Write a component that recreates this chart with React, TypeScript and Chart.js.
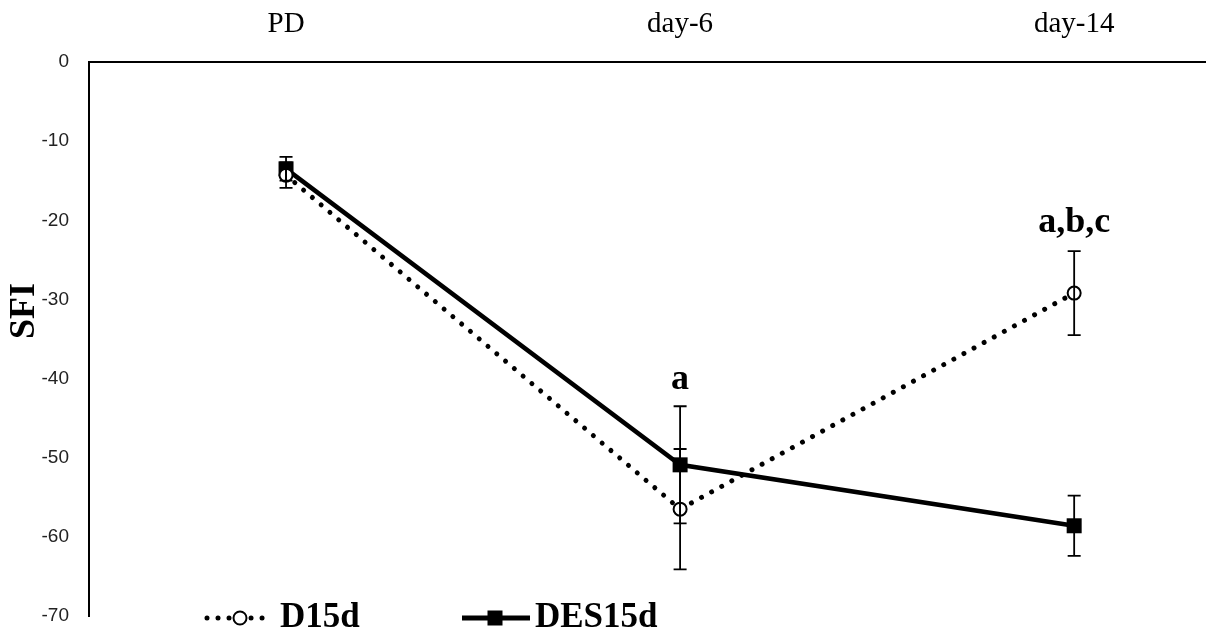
import React, { useEffect, useRef } from "react";
import { Chart, registerables } from "chart.js";

Chart.register(...registerables);

const categories = ["PD", "day-6", "day-14"];
const yTicks = [0, -10, -20, -30, -40, -50, -60, -70];

const d15dValues = [-14.3, -56.5, -29.2];
const d15dErrors = [1.6, 7.6, 5.3];

const des15dValues = [-13.5, -50.9, -58.6];
const des15dErrors = [1.5, 7.4, 3.8];

const annotationTexts = ["a", "a,b,c"];
const annotationCats = [1, 2];
const annotationValues = [-41.3, -21.5];

const yTitle = "SFI";
const seriesNames = ["D15d", "DES15d"];

const SERIF = "'Liberation Serif', 'Times New Roman', serif";
const SANS = "'Liberation Sans', Arial, sans-serif";

const errorBarPlugin = {
  id: "errorBars",
  afterDatasetsDraw(chart: any) {
    const { ctx, scales } = chart;
    const xs = scales.x;
    const ys = scales.y;
    const errs = [d15dErrors, des15dErrors];
    ctx.save();
    ctx.strokeStyle = "#000";
    ctx.lineWidth = 1.8;
    ctx.setLineDash([]);
    chart.data.datasets.forEach((ds: any, di: number) => {
      ds.data.forEach((p: any, i: number) => {
        const e = errs[di][i];
        const x = xs.getPixelForValue(p.x);
        const yTop = ys.getPixelForValue(p.y + e);
        const yBot = ys.getPixelForValue(p.y - e);
        ctx.beginPath();
        ctx.moveTo(x, yTop);
        ctx.lineTo(x, yBot);
        ctx.moveTo(x - 6.5, yTop);
        ctx.lineTo(x + 6.5, yTop);
        ctx.moveTo(x - 6.5, yBot);
        ctx.lineTo(x + 6.5, yBot);
        ctx.stroke();
      });
    });
    ctx.restore();
  },
};

const extrasPlugin = {
  id: "extras",
  afterDraw(chart: any) {
    const { ctx, scales } = chart;
    const xs = scales.x;
    const ys = scales.y;
    ctx.save();
    // annotations
    ctx.fillStyle = "#000";
    ctx.font = `bold 36px ${SERIF}`;
    ctx.textAlign = "center";
    ctx.textBaseline = "alphabetic";
    annotationTexts.forEach((t, i) => {
      ctx.fillText(t, xs.getPixelForValue(annotationCats[i]), ys.getPixelForValue(annotationValues[i]));
    });
    // y title
    ctx.save();
    ctx.translate(25, 311);
    ctx.rotate(-Math.PI / 2);
    ctx.textBaseline = "middle";
    ctx.font = `bold 36px ${SERIF}`;
    ctx.fillText(yTitle, 0, 0);
    ctx.restore();

    // legend
    const ly = 618;
    // D15d
    ctx.strokeStyle = "#000";
    ctx.lineCap = "round";
    ctx.lineWidth = 5;
    ctx.setLineDash([0.01, 11]);
    ctx.beginPath();
    ctx.moveTo(207, ly);
    ctx.lineTo(268, ly);
    ctx.stroke();
    ctx.setLineDash([]);
    ctx.lineCap = "butt";
    ctx.beginPath();
    ctx.arc(240, ly, 6.5, 0, Math.PI * 2);
    ctx.fillStyle = "#fff";
    ctx.fill();
    ctx.lineWidth = 2;
    ctx.stroke();
    // DES15d
    ctx.lineWidth = 5;
    ctx.beginPath();
    ctx.moveTo(462, ly);
    ctx.lineTo(530, ly);
    ctx.stroke();
    ctx.fillStyle = "#000";
    ctx.fillRect(495 - 7.5, ly - 7.5, 15, 15);

    ctx.font = `bold 35px ${SERIF}`;
    ctx.textAlign = "left";
    ctx.textBaseline = "alphabetic";
    ctx.fillText(seriesNames[0], 280, 627);
    ctx.fillText(seriesNames[1], 535, 627);
    ctx.restore();
  },
};

export default function App() {
  const ref = useRef<HTMLCanvasElement | null>(null);
  useEffect(() => {
    if (!ref.current) return;
    const chart = new Chart(ref.current, {
      type: "line",
      data: {
        datasets: [
          {
            label: seriesNames[0],
            data: d15dValues.map((v, i) => ({ x: i, y: v })),
            borderColor: "#000",
            borderWidth: 5,
            borderDash: [0.01, 11.5],
            borderCapStyle: "round",
            pointStyle: "circle",
            pointRadius: 6.5,
            pointBackgroundColor: "#fff",
            pointBorderColor: "#000",
            pointBorderWidth: 2,
            tension: 0,
          },
          {
            label: seriesNames[1],
            data: des15dValues.map((v, i) => ({ x: i, y: v })),
            borderColor: "#000",
            borderWidth: 4.5,
            pointStyle: "rect",
            pointRadius: 10.6,
            pointBackgroundColor: "#000",
            pointBorderColor: "#000",
            pointBorderWidth: 0,
            tension: 0,
          },
        ],
      },
      options: {
        animation: false,
        responsive: false,
        layout: { autoPadding: false, padding: { top: 0, left: 0, right: 5, bottom: 17 } },
        plugins: {
          legend: { display: false },
          tooltip: { enabled: false },
        },
        scales: {
          x: {
            type: "linear",
            position: "top",
            min: -0.5,
            max: 2.332,
            grid: { display: false, drawTicks: false },
            border: { display: true, color: "#000", width: 2 },
            afterBuildTicks: (s: any) => {
              s.ticks = categories.map((_, i) => ({ value: i }));
            },
            afterFit: (s: any) => {
              s.height = 62;
              s.paddingLeft = 0;
              s.paddingRight = 0;
            },
            ticks: {
              padding: 20,
              color: "#000",
              font: { family: SERIF, size: 29 },
              callback: (v: any) => categories[v as number] ?? "",
            },
          },
          y: {
            type: "linear",
            min: -70,
            max: 0,
            grid: { display: false, drawTicks: false },
            border: { display: true, color: "#000", width: 2 },
            afterBuildTicks: (s: any) => {
              s.ticks = yTicks.map((v) => ({ value: v }));
            },
            afterFit: (s: any) => {
              s.width = 89;
              s.paddingTop = 0;
              s.paddingBottom = 0;
            },
            ticks: {
              padding: 20,
              color: "#222",
              font: { family: SANS, size: 19 },
            },
          },
        },
      },
      plugins: [errorBarPlugin, extrasPlugin],
    } as any);
    return () => chart.destroy();
  }, []);
  return (
    <div style={{ position: "fixed", left: 0, top: 0, width: 1210, height: 633, background: "#fff" }}>
      <canvas ref={ref} width={1210} height={633} style={{ width: 1210, height: 633, display: "block" }} />
    </div>
  );
}
